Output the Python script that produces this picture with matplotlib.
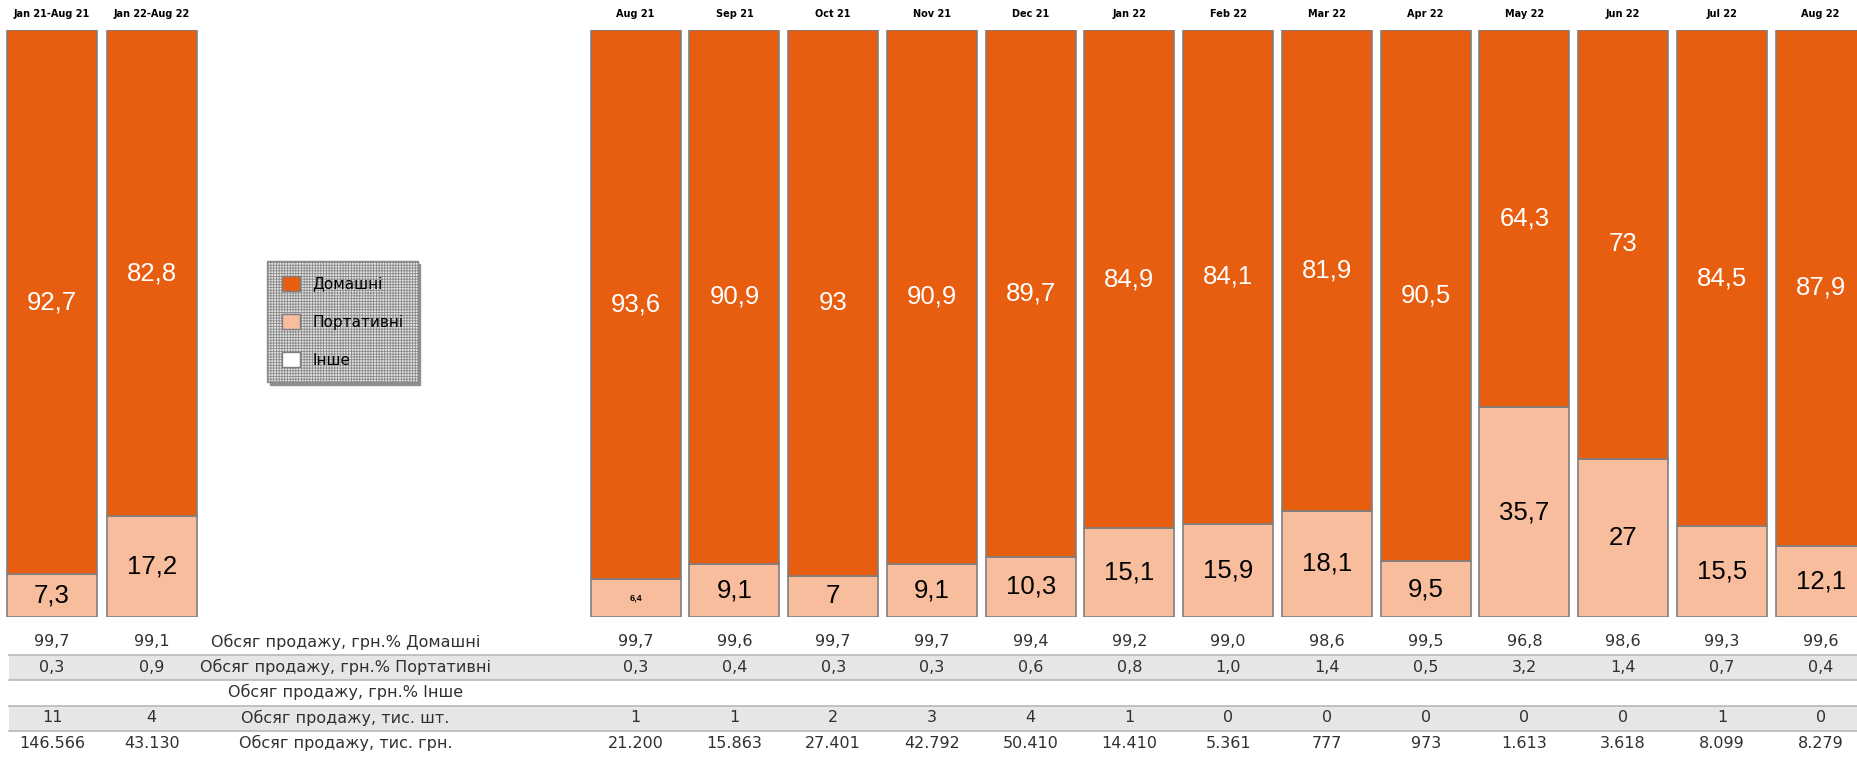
import numpy as np
import matplotlib
matplotlib.use("Agg")
import matplotlib.pyplot as plt
from matplotlib.patches import Patch, Rectangle
from matplotlib.transforms import blended_transform_factory

# --- data ---
total_periods = ['Jan 21-Aug 21', 'Jan 22-Aug 22']
months = ['Aug 21', 'Sep 21', 'Oct 21', 'Nov 21', 'Dec 21', 'Jan 22', 'Feb 22',
          'Mar 22', 'Apr 22', 'May 22', 'Jun 22', 'Jul 22', 'Aug 22']

# share of units (bars), %
dom_total = [92.7, 82.8]
port_total = [7.3, 17.2]
dom_month = [93.6, 90.9, 93, 90.9, 89.7, 84.9, 84.1, 81.9, 90.5, 64.3, 73, 84.5, 87.9]
port_month = [6.4, 9.1, 7, 9.1, 10.3, 15.1, 15.9, 18.1, 9.5, 35.7, 27, 15.5, 12.1]

series_names = ['Домашні', 'Портативні', 'Інше']

# table rows
row_names = ['Обсяг продажу, грн.% Домашні',
             'Обсяг продажу, грн.% Портативні',
             'Обсяг продажу, грн.% Інше',
             'Обсяг продажу, тис. шт.',
             'Обсяг продажу, тис. грн.']
val_dom_total = [99.7, 99.1]
val_dom_month = [99.7, 99.6, 99.7, 99.7, 99.4, 99.2, 99.0, 98.6, 99.5, 96.8, 98.6, 99.3, 99.6]
val_port_total = [0.3, 0.9]
val_port_month = [0.3, 0.4, 0.3, 0.3, 0.6, 0.8, 1.0, 1.4, 0.5, 3.2, 1.4, 0.7, 0.4]
units_total = [11, 4]
units_month = [1, 1, 2, 3, 4, 1, 0, 0, 0, 0, 0, 1, 0]
sales_total = [146566, 43130]
sales_month = [21200, 15863, 27401, 42792, 50410, 14410, 5361, 777, 973, 1613, 3618, 8099, 8279]

C_DOM = '#E85E10'
C_PORT = '#F7BD9C'
C_OTHER = '#FFFFFF'
C_EDGE = '#7F7F7F'
TXT = '#303030'


def fmt_share(v):
    if float(v).is_integer():
        return str(int(v))
    return f'{v:.1f}'.replace('.', ',')


def fmt_pct(v):
    return f'{v:.1f}'.replace('.', ',')


def fmt_thousands(v):
    return f'{v:,}'.replace(',', '.')


W, H = 1858, 761
fig = plt.figure(figsize=(W / 100, H / 100), dpi=100)
# bars occupy y 30..617 px from top
ax = fig.add_axes([0, (H - 617) / H, 1, (617 - 30) / H])
ax.set_zorder(5)
ax.set_ylim(0, 100)
ax.set_xlim(-0.527, 18.288)
ax.axis('off')

x_total = np.arange(len(total_periods)) * 1.01
x_month = 5.91 + np.arange(len(months))
xs = np.concatenate([x_total, x_month])
dom = np.array(dom_total + dom_month)
port = np.array(port_total + port_month)
labels_top = total_periods + months

bw = 0.91
ax.bar(xs, port, width=bw, color=C_PORT, edgecolor=C_EDGE, linewidth=1.2)
ax.bar(xs, dom, width=bw, bottom=port, color=C_DOM, edgecolor=C_EDGE, linewidth=1.2)

for x, d, p in zip(xs, dom, port):
    ax.text(x, p + d / 2, fmt_share(d), ha='center', va='center',
            color='white', fontsize=18.5, family='Liberation Sans')
    if p < 7:
        ax.text(x, p / 2, fmt_share(p), ha='center', va='center',
                color='black', fontsize=6.5, fontweight='bold', family='Liberation Sans')
    else:
        ax.text(x, p / 2, fmt_share(p), ha='center', va='center',
                color='black', fontsize=18.5, family='Liberation Sans')

tr = blended_transform_factory(ax.transData, fig.transFigure)


def fy(px):
    return 1 - px / H


for x, lab in zip(xs, labels_top):
    ax.text(x, fy(14), lab, transform=tr, ha='center', va='center',
            fontsize=7, fontweight='bold', color='black')

# table bands
for top, bot in [(655, 680), (706, 731)]:
    fig.patches.append(Rectangle((9 / W, fy(bot)), 1 - 9 / W, (bot - top) / H,
                                 transform=fig.transFigure, facecolor='#E6E6E6',
                                 edgecolor='none', zorder=0))
    for yy in (top, bot):
        fig.add_artist(plt.Line2D([9 / W, 1], [fy(yy), fy(yy)], color='#B8B8B8',
                                  linewidth=1.2, transform=fig.transFigure, zorder=1))

row_y = [642, 667, 692, 718, 743]
row_vals = [
    [fmt_pct(v) for v in val_dom_total + val_dom_month],
    [fmt_pct(v) for v in val_port_total + val_port_month],
    [''] * len(xs),
    [str(v) for v in units_total + units_month],
    [fmt_thousands(v) for v in sales_total + sales_month],
]
label_x = 2.97
for y, name, vals in zip(row_y, row_names, row_vals):
    ax.text(label_x, fy(y), name, transform=tr, ha='center', va='center',
            fontsize=11.5, color=TXT)
    for x, v in zip(xs, vals):
        ax.text(x, fy(y), v, transform=tr, ha='center', va='center',
                fontsize=11.5, color=TXT)

# legend
plt.rcParams['hatch.linewidth'] = 0.6
handles = [Patch(facecolor=C_DOM, edgecolor=C_EDGE, label=series_names[0]),
           Patch(facecolor=C_PORT, edgecolor=C_EDGE, label=series_names[1]),
           Patch(facecolor=C_OTHER, edgecolor=C_EDGE, label=series_names[2])]
leg = ax.legend(handles=handles, loc='upper left',
                bbox_to_anchor=(267 / W, fy(261)), bbox_transform=fig.transFigure,
                fontsize=11, handlelength=1.2, handleheight=1.2, labelspacing=1.45,
                handletextpad=0.8, borderpad=0.95, borderaxespad=0,
                fancybox=False, frameon=True,
                shadow={'color': '#909090', 'alpha': 1})
frame = leg.get_frame()
frame.set_facecolor('#E4E4E4')
frame.set_edgecolor('#8A8A8A')
frame.set_hatch('++++++')
frame.set_linewidth(1.0)
frame.set_alpha(1)

fig.savefig('out.png', dpi=100)
